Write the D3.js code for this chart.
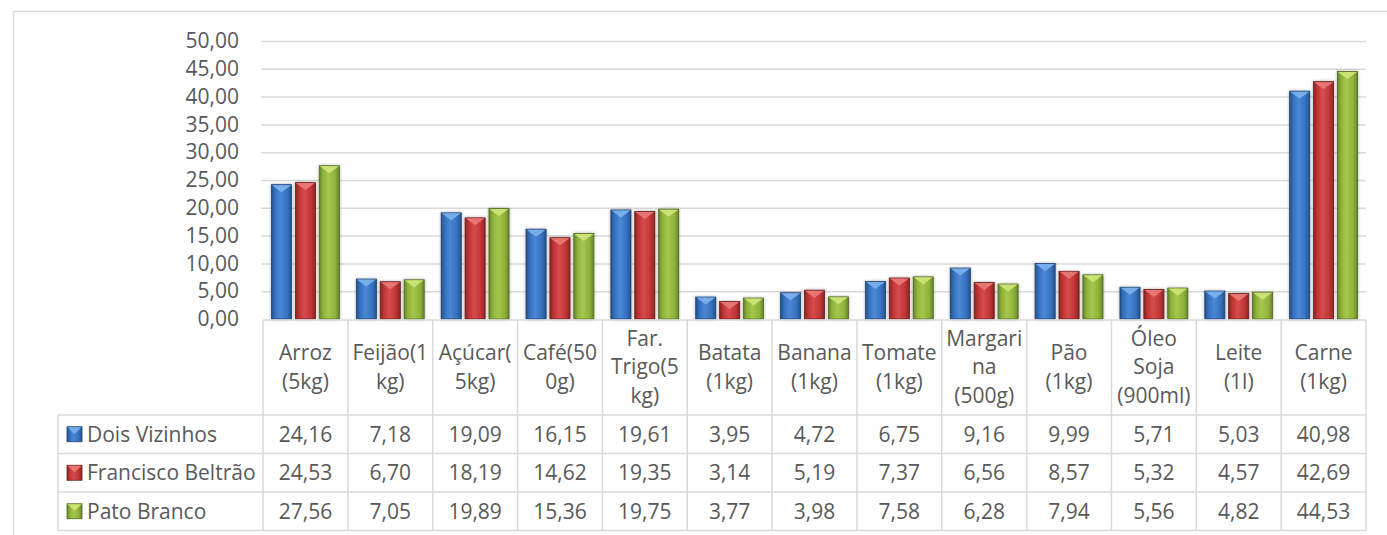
<!DOCTYPE html>
<html>
<head>
<meta charset="utf-8">
<script src="https://cdn.jsdelivr.net/npm/d3@7"></script>
<style>
	body { margin: 0; background: #fff; }
	svg { display: block; font-family: "Open Sans", sans-serif; }
	.txt { fill: #595959; font-size: 21px; }
	.grid line { stroke: #d9d9d9; stroke-width: 1.5; }
	.tbl { stroke: #d9d9d9; stroke-width: 1.5; fill: none; }
</style>
</head>
<body>
<svg id="chart" width="1387" height="535"></svg>
<script>
// chart data
var categories = ["Arroz\n(5kg)", "Feijão(1\nkg)", "Açúcar(\n5kg)", "Café(50\n0g)", "Far.\nTrigo(5\nkg)", "Batata\n(1kg)", "Banana\n(1kg)", "Tomate\n(1kg)", "Margari\nna\n(500g)", "Pão\n(1kg)", "Óleo\nSoja\n(900ml)", "Leite\n(1l)", "Carne\n(1kg)"];
var seriesNames = ["Dois Vizinhos", "Francisco Beltrão", "Pato Branco"];
var doisVizinhos = [24.16, 7.18, 19.09, 16.15, 19.61, 3.95, 4.72, 6.75, 9.16, 9.99, 5.71, 5.03, 40.98];
var franciscoBeltrao = [24.53, 6.70, 18.19, 14.62, 19.35, 3.14, 5.19, 7.37, 6.56, 8.57, 5.32, 4.57, 42.69];
var patoBranco = [27.56, 7.05, 19.89, 15.36, 19.75, 3.77, 3.98, 7.58, 6.28, 7.94, 5.56, 4.82, 44.53];
var yTicks = [0, 5, 10, 15, 20, 25, 30, 35, 40, 45, 50];

(function () {
	var svg, defs, x, xs, y, fmt, series, palette, plot, table;

	plot = { left: 263, right: 1366, top: 41, bottom: 319 };
	table = { legendLeft: 58, headerBottom: 415, rowH: 38.5 };
	series = [doisVizinhos, franciscoBeltrao, patoBranco];
	// dark edge, mid, light centre, top cap, outline
	palette = [
		{ id: "blue", dark: "#25508a", mid: "#3570bd", light: "#4a88d6", cap: "#7db3ec", line: "#1e4273" },
		{ id: "red", dark: "#8a2424", mid: "#bf3434", light: "#d74c4c", cap: "#ea7a7a", line: "#6e1c1c" },
		{ id: "green", dark: "#66822a", mid: "#8db13a", light: "#a5c84c", cap: "#cfe67a", line: "#516a1f" }
	];

	fmt = d3.formatLocale({ decimal: ",", thousands: ".", grouping: [3], currency: ["R$", ""] }).format(".2f");

	svg = d3.select("#chart");
	defs = svg.append("defs");

	x = d3.scaleBand().domain(d3.range(categories.length)).range([plot.left, plot.right]);
	xs = d3.scaleBand().domain(d3.range(series.length)).range([8.5, x.bandwidth() - 8.5]).paddingInner(0.16);
	y = d3.scaleLinear().domain([0, 50]).range([plot.bottom, plot.top]);

	makeDefs();
	drawFrame();
	drawGrid();
	drawBars();
	drawTable();

	function makeDefs() {
		palette.forEach(function (p) {
			var g = defs.append("linearGradient").attr("id", "grad-" + p.id)
				.attr("x1", "0").attr("x2", "1").attr("y1", "0").attr("y2", "0");
			g.append("stop").attr("offset", "0").attr("stop-color", p.dark);
			g.append("stop").attr("offset", "0.18").attr("stop-color", p.mid);
			g.append("stop").attr("offset", "0.45").attr("stop-color", p.light);
			g.append("stop").attr("offset", "0.8").attr("stop-color", p.mid);
			g.append("stop").attr("offset", "1").attr("stop-color", p.dark);
		});
		var f = defs.append("filter").attr("id", "shadow")
			.attr("x", "-30%").attr("y", "-10%").attr("width", "160%").attr("height", "120%");
		f.append("feDropShadow").attr("dx", 0).attr("dy", 0).attr("stdDeviation", 1.6)
			.attr("flood-color", "#000").attr("flood-opacity", 0.35);
	}

	function drawFrame() {
		svg.append("path").attr("class", "tbl")
			.attr("d", "M13.5,535V11.5H1387");
	}

	function drawGrid() {
		var grid = svg.append("g").attr("class", "grid")
			.attr("transform", "translate(" + plot.right + ",0)")
			.call(d3.axisLeft(y).tickValues(yTicks.slice(1)).tickSize(plot.right - 261).tickFormat(""));
		grid.select(".domain").remove();

		var ax = svg.append("g")
			.attr("transform", "translate(239,0)")
			.call(d3.axisLeft(y).tickValues(yTicks).tickSize(0).tickPadding(0).tickFormat(fmt));
		ax.select(".domain").remove();
		ax.selectAll("text").attr("class", "txt").attr("fill", null)
			.style("font-family", null).style("font-size", null)
			.attr("font-family", null).attr("font-size", null);
		ax.attr("font-family", null).attr("font-size", null);
	}

	function drawBars() {
		series.forEach(function (vals, s) {
			var p = palette[s];
			var g = svg.append("g").attr("class", "series-" + p.id);
			var bars = g.selectAll("g").data(vals).enter().append("g")
				.attr("transform", function (d, i) { return "translate(" + (x(i) + xs(s)) + ",0)"; });
			var w = xs.bandwidth();
			bars.append("rect")
				.attr("x", 0).attr("width", w)
				.attr("y", function (d) { return y(d); })
				.attr("height", function (d) { return y(0) - y(d); })
				.attr("fill", "url(#grad-" + p.id + ")")
				.attr("stroke", p.line).attr("stroke-width", 0.8)
				.attr("filter", "url(#shadow)");
			bars.append("path")
				.attr("d", function (d) {
					var t = y(d) + 0.5;
					return "M0.5," + t + "L" + (w - 0.5) + "," + t + "L" + (w / 2) + "," + (t + Math.min(7, y(0) - t)) + "Z";
				})
				.attr("fill", p.cap).attr("opacity", 0.9);
		});
	}

	function drawTable() {
		var rowTops = [table.headerBottom, table.headerBottom + table.rowH, table.headerBottom + 2 * table.rowH, table.headerBottom + 3 * table.rowH];
		var edges = d3.range(categories.length + 1).map(function (i) { return i < categories.length ? x(i) : plot.right; });

		// horizontal lines
		svg.append("line").attr("class", "tbl")
			.attr("x1", plot.left).attr("x2", plot.right).attr("y1", plot.bottom + 1).attr("y2", plot.bottom + 1);
		svg.selectAll("hline").data(rowTops).enter().append("line").attr("class", "tbl")
			.attr("x1", table.legendLeft).attr("x2", plot.right)
			.attr("y1", function (d) { return d; }).attr("y2", function (d) { return d; });
		// vertical lines
		svg.selectAll("vline").data(edges).enter().append("line").attr("class", "tbl")
			.attr("x1", function (d) { return d; }).attr("x2", function (d) { return d; })
			.attr("y1", plot.bottom + 1).attr("y2", rowTops[3]);
		svg.append("line").attr("class", "tbl")
			.attr("x1", table.legendLeft).attr("x2", table.legendLeft)
			.attr("y1", rowTops[0]).attr("y2", rowTops[3]);

		// category headers
		var mid = (plot.bottom + table.headerBottom) / 2;
		var heads = svg.selectAll("head").data(categories).enter().append("text")
			.attr("class", "txt").attr("text-anchor", "middle");
		heads.each(function (d, i) {
			var lines = d.split("\n");
			var t = d3.select(this);
			lines.forEach(function (l, k) {
				t.append("tspan")
					.attr("x", x(i) + x.bandwidth() / 2)
					.attr("y", mid + (k - (lines.length - 1) / 2) * 28.5)
					.attr("dy", "0.35em")
					.text(l);
			});
		});

		// legend + values rows
		series.forEach(function (vals, s) {
			var p = palette[s];
			var cy = rowTops[s] + table.rowH / 2;
			var key = svg.append("g").attr("transform", "translate(67," + (cy - 7.5) + ")");
			key.append("rect").attr("width", 15).attr("height", 15)
				.attr("fill", "url(#grad-" + p.id + ")").attr("stroke", p.line).attr("stroke-width", 0.8);
			key.append("path").attr("d", "M0.5,0.5L14.5,0.5L7.5,7Z").attr("fill", p.cap).attr("opacity", 0.9);
			svg.append("text").attr("class", "txt")
				.attr("x", 87).attr("y", cy).attr("dy", "0.35em")
				.text(seriesNames[s]);
			svg.selectAll("val" + s).data(vals).enter().append("text")
				.attr("class", "txt").attr("text-anchor", "middle")
				.attr("x", function (d, i) { return x(i) + x.bandwidth() / 2; })
				.attr("y", cy).attr("dy", "0.35em")
				.text(function (d) { return fmt(d); });
		});
	}
})();
</script>
</body>
</html>
